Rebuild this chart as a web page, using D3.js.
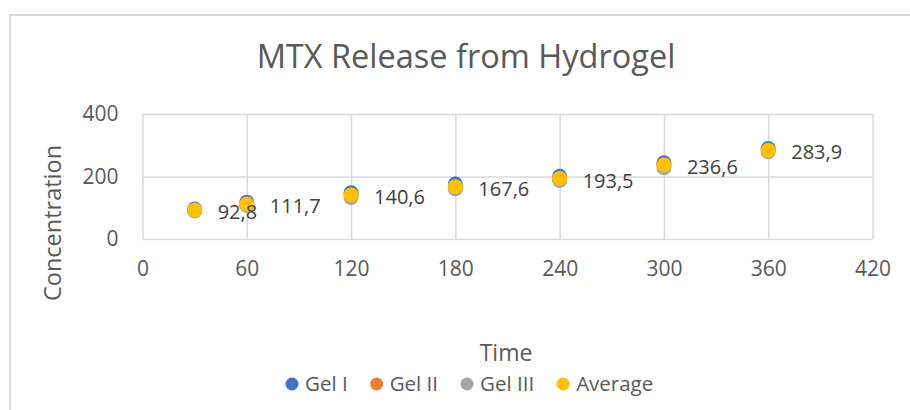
<!DOCTYPE html>
<html>
<head>
<meta charset="utf-8">
<script src="https://cdn.jsdelivr.net/npm/d3@7"></script>
<style>
  body { margin: 0; background: #fff; }
  text { font-family: "Open Sans", sans-serif; }
</style>
</head>
<body>
<div id="container"></div>
<script>
let w = 910;
let h = 410;

let times = [30, 60, 120, 180, 240, 300, 360];
let gel1 = [96, 118, 148, 176, 201, 244, 290];
let gel2 = [92, 110, 141, 166, 193, 238, 283];
let gel3 = [90, 107, 133, 161, 187, 228, 279];
let average = [92.8, 111.7, 140.6, 167.6, 193.5, 236.6, 283.9];
let seriesNames = ["Gel I", "Gel II", "Gel III", "Average"];
let seriesColors = ["#4472C4", "#ED7D31", "#A5A5A5", "#FFC000"];
let xTicks = [0, 60, 120, 180, 240, 300, 360, 420];
let yTicks = [0, 200, 400];

let allSeries = [gel1, gel2, gel3, average];

let viz = d3.select("#container")
  .append("svg")
  .attr("width", w)
  .attr("height", h)
  ;

// chart frame
viz.append("rect")
  .attr("x", 10)
  .attr("y", 15)
  .attr("width", 960)
  .attr("height", 460)
  .attr("fill", "none")
  .attr("stroke", "#d9d9d9")
  .attr("stroke-width", 2);

let xScale = d3.scaleLinear().domain([0, 420]).range([142.5, 872.5]);
let yScale = d3.scaleLinear().domain([0, 400]).range([239, 114]);

// gridlines
viz.append("g").attr("transform", "translate(0," + yScale(0) + ")")
  .call(d3.axisBottom(xScale).tickValues(xTicks).tickSize(-(yScale(0) - yScale(400))).tickFormat(""));
viz.append("g").attr("transform", "translate(" + xScale(0) + ",0)")
  .call(d3.axisLeft(yScale).tickValues(yTicks).tickSize(-(xScale(420) - xScale(0))).tickFormat(""));
viz.selectAll(".domain").remove();
viz.selectAll(".tick line").attr("stroke", "#d9d9d9").attr("stroke-width", 1.5);

// tick labels
let xAxisGroup = viz.append("g").attr("transform", "translate(0," + yScale(0) + ")")
  .call(d3.axisBottom(xScale).tickValues(xTicks).tickSize(0).tickPadding(22));
let yAxisGroup = viz.append("g").attr("transform", "translate(" + xScale(0) + ",0)")
  .call(d3.axisLeft(yScale).tickValues(yTicks).tickSize(0).tickPadding(24));
xAxisGroup.select(".domain").remove();
yAxisGroup.select(".domain").remove();
viz.selectAll(".tick text")
  .attr("fill", "#595959")
  .style("font-size", "21px")
  .style("font-family", "'Open Sans', sans-serif");

// title
viz.append("text")
  .attr("x", 466)
  .attr("y", 68)
  .attr("text-anchor", "middle")
  .attr("fill", "#595959")
  .style("font-size", "32.5px")
  .text("MTX Release from Hydrogel");

// axis titles
viz.append("text")
  .attr("x", 506)
  .attr("y", 361)
  .attr("text-anchor", "middle")
  .attr("fill", "#595959")
  .style("font-size", "23px")
  .text("Time");

viz.append("text")
  .attr("transform", "translate(61,223) rotate(-90)")
  .attr("text-anchor", "middle")
  .attr("fill", "#595959")
  .style("font-size", "23.5px")
  .text("Concentration");

// points
allSeries.forEach(function (values, s) {
  viz.append("g")
    .selectAll("circle")
    .data(values)
    .enter()
    .append("circle")
    .attr("cx", function (d, i) { return xScale(times[i]); })
    .attr("cy", function (d) { return yScale(d); })
    .attr("r", 7.5)
    .attr("fill", seriesColors[s]);
});

// data labels for average
let fmt = function (v) { return d3.format(".1f")(v).replace(".", ","); };
viz.append("g")
  .selectAll("text")
  .data(average)
  .enter()
  .append("text")
  .attr("x", function (d, i) { return xScale(times[i]) + 23; })
  .attr("y", function (d) { return yScale(d) + 2; })
  .attr("dy", "0.35em")
  .attr("fill", "#404040")
  .style("font-size", "20px")
  .text(fmt);

// legend
let legend = viz.append("g");
let lx = 285;
seriesNames.forEach(function (name, i) {
  legend.append("circle")
    .attr("cx", lx + 7)
    .attr("cy", 384)
    .attr("r", 6.5)
    .attr("fill", seriesColors[i]);
  let t = legend.append("text")
    .attr("x", lx + 20)
    .attr("y", 384)
    .attr("dy", "0.35em")
    .attr("fill", "#595959")
    .style("font-size", "20.5px")
    .text(name);
  lx = lx + 20 + t.node().getComputedTextLength() + 22;
});
</script>
</body>
</html>
